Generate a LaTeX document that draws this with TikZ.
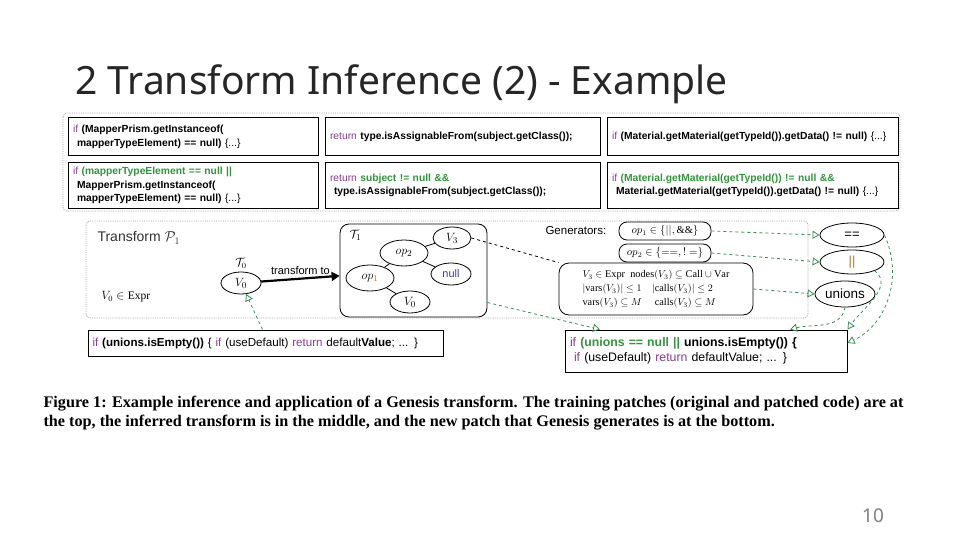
\documentclass[tikz,border=0pt]{standalone}
\usepackage{amsmath,amssymb}
\usepackage{fontspec}
\setmainfont{Liberation Serif}
\newfontfamily\codefont{Liberation Sans}
\newfontfamily\titlefont{Noto Sans}
\usetikzlibrary{shapes.geometric,arrows.meta,positioning}
\definecolor{kwpurple}{RGB}{140,60,140}
\definecolor{addgreen}{RGB}{50,150,60}
\definecolor{linkgreen}{RGB}{60,140,90}
\definecolor{nullblue}{RGB}{60,60,170}
\definecolor{suborange}{RGB}{200,110,30}
\newcommand{\kw}[1]{\textcolor{kwpurple}{#1}}
\newcommand{\addc}[1]{\textcolor{addgreen}{\bfseries #1}}

\begin{document}
\begin{tikzpicture}[x=1pt, y=-1pt,
    codebox/.style={draw, line width=1pt, align=left, inner xsep=4pt, inner ysep=2pt,
        font=\codefont\fontsize{10.3}{13.5}\selectfont},
    patchbox/.style={codebox, font=\codefont\fontsize{12.3}{15}\selectfont},
    treenode/.style={ellipse, draw, thick, inner sep=1pt, font=\fontsize{13}{15}\selectfont},
    gen/.style={draw, thick, rounded corners=8pt},
    frame/.style={densely dotted, draw=gray!70, thick, rounded corners=4pt},
    link/.style={dashed, draw=linkgreen, thick, -{Triangle[open, length=7pt, width=8pt]}}]
\useasboundingbox[fill=white] (0,0) rectangle (960,540);

\node[anchor=base west, font=\titlefont\fontsize{39}{44}\selectfont, text=black!85] (title) at (72,95) {2 Transform Inference (2) - Example};

\draw[frame] (63,113) rectangle (900,211);
\node[codebox, minimum width=250pt, minimum height=38pt, text width=240pt] (oldA) at (193,137)
    {\kw{if} \textbf{(MapperPrism.getInstanceof(}\\ \hspace*{4pt}\textbf{mapperTypeElement) == null)} \{...\}};
\node[codebox, minimum width=250pt, minimum height=45pt, text width=240pt] (newA) at (193,185.5)
    {\kw{if} \addc{(mapperTypeElement == null ||}\\ \hspace*{4pt}\textbf{MapperPrism.getInstanceof(}\\ \hspace*{4pt}\textbf{mapperTypeElement) == null)} \{...\}};
\node[codebox, minimum width=275pt, minimum height=38pt, text width=265pt] (oldB) at (462.5,137)
    {\kw{return} \textbf{type.isAssignableFrom(subject.getClass());}};
\node[codebox, minimum width=275pt, minimum height=45pt, text width=265pt] (newB) at (462.5,185.5)
    {\kw{return} \addc{subject != null \&\&}\\ \hspace*{4pt}\textbf{type.isAssignableFrom(subject.getClass());}};
\node[codebox, minimum width=291pt, minimum height=38pt, text width=281pt] (oldC) at (752.5,137)
    {\kw{if} \textbf{(Material.getMaterial(getTypeId()).getData() != null)} \{...\}};
\node[codebox, minimum width=291pt, minimum height=45pt, text width=281pt] (newC) at (752.5,185.5)
    {\kw{if} \addc{(Material.getMaterial(getTypeId()) != null \&\&}\\ \hspace*{4pt}\textbf{Material.getMaterial(getTypeId()).getData() != null)} \{...\}};

\draw[frame] (86,221) rectangle (808,318);
\node[anchor=west, font=\codefont\fontsize{14}{16}\selectfont, text=black!80] (tname) at (94,238) {Transform $\mathcal{P}_1$};
\node[anchor=west, font=\fontsize{11.5}{13}\selectfont] (texpr) at (98,297) {$V_0 \in \mathrm{Expr}$};
\node[treenode, minimum width=40pt, minimum height=22pt] (tzero) at (241,283) {$V_0$};
\node[above=0pt of tzero, font=\fontsize{12}{14}\selectfont] (tzlabel) {$\mathcal{T}_0$};
\node[draw, thick, rounded corners=9pt, minimum width=147pt, minimum height=93pt] (tone) at (413.5,270.5) {};
\node[anchor=north west, font=\fontsize{13}{15}\selectfont] (tolabel) at (346,227) {$\mathcal{T}_1$};
\draw[line width=2.2pt, -{Triangle[length=8pt, width=9pt]}] (tzero) -- node[above, font=\codefont\fontsize{11}{13}\selectfont] {transform to} (tone);

\node[treenode, minimum width=38pt, minimum height=22pt] (vthree) at (452,238) {$V_3$};
\node[treenode, minimum width=48pt, minimum height=26pt] (optwo) at (404,253) {$op_2$};
\node[treenode, minimum width=40pt, minimum height=22pt, text=nullblue, font=\codefont\fontsize{11}{13}\selectfont] (nullv) at (451,274) {null};
\node[treenode, minimum width=48pt, minimum height=26pt] (opone) at (370,278) {$op_{\color{suborange}1}$};
\node[treenode, minimum width=40pt, minimum height=22pt] (vzero) at (410,302) {$V_0$};
\draw[thick] (optwo) -- (vthree);
\draw[thick] (optwo) -- (nullv);
\draw[thick] (optwo) -- (opone);
\draw[thick] (opone) -- (vzero);

\node[anchor=west, font=\codefont\fontsize{11.5}{13}\selectfont] (genlabel) at (542,231) {Generators:};
\node[gen, minimum width=92pt, minimum height=18pt, font=\fontsize{10.5}{12}\selectfont] (genone) at (665,231) {$op_1 \in \{||, \&\&\}$};
\node[gen, minimum width=92pt, minimum height=18pt, font=\fontsize{10.5}{12}\selectfont] (gentwo) at (665,253) {$op_2 \in \{==, !=\}$};
\node[gen, rounded corners=10pt, minimum width=194pt, minimum height=52pt, align=left, font=\fontsize{10.3}{14}\selectfont] (cond) at (656,289)
    {$V_3 \in \mathrm{Expr}$\ \ $\mathrm{nodes}(V_3) \subseteq \mathrm{Call} \cup \mathrm{Var}$\\
     $|\mathrm{vars}(V_3)| \le 1$\quad $|\mathrm{calls}(V_3)| \le 2$\\
     $\mathrm{vars}(V_3) \subseteq M$\quad\ $\mathrm{calls}(V_3) \subseteq M$};

\node[treenode, minimum width=64pt, minimum height=24pt, font=\codefont\fontsize{13}{15}\selectfont] (eq) at (852,235) {==};
\node[treenode, minimum width=64pt, minimum height=24pt, font=\codefont\fontsize{13}{15}\selectfont, text=suborange] (or) at (852,262) {||};
\node[treenode, minimum width=60pt, minimum height=26pt, font=\codefont\fontsize{13.5}{15}\selectfont] (unions) at (845,294) {unions};

\node[patchbox, font=\codefont\fontsize{11.6}{15}\selectfont, minimum width=355pt, minimum height=26pt, text width=346pt] (oldpatch) at (265.5,343)
    {\kw{if} \textbf{(unions.isEmpty())} \{ \kw{if} (useDefault) \kw{return} default\textbf{Value}; ... \}};
\node[patchbox, minimum width=282pt, minimum height=42pt, text width=272pt] (newpatch) at (706,351)
    {\kw{if} \addc{(unions == null ||} \textbf{unions.isEmpty()) \{}\\ \hspace*{4pt}\kw{if} (useDefault) \kw{return} defaultValue; ... \}};

\draw[dashed, thick] (vthree.east) -- (cond.north west);
\draw[link] ([yshift=-32pt]tone.east) -- ([xshift=-106pt]newpatch.north);
\draw[link] ([xshift=-3pt]oldpatch.north) -- (tzero);
\draw[link] (genone.east) -- (eq.west);
\draw[link] (gentwo.east) -- (or.west);
\draw[link] (cond.east) -- (unions.west);
\draw[link] (eq.east) to[out=-65, in=25] ([yshift=8pt]newpatch.east);
\draw[link] (or.south east) to[out=-40, in=55] (newpatch.north east);
\draw[link] (unions.south) to[out=-100, in=15] ([xshift=84pt]newpatch.north);

\node[anchor=base west, font=\bfseries\fontsize{16.2}{19}\selectfont] (capone) at (40,407)
    {Figure 1: Example inference and application of a Genesis transform. The training patches (original and patched code) are at};
\node[anchor=base west, font=\bfseries\fontsize{16.2}{19}\selectfont] (captwo) at (40,426)
    {the top, the inferred transform is in the middle, and the new patch that Genesis generates is at the bottom.};

\node[font=\titlefont\fontsize{19}{21}\selectfont, text=gray] (pagenum) at (873,516) {10};
\end{tikzpicture}
\end{document}
